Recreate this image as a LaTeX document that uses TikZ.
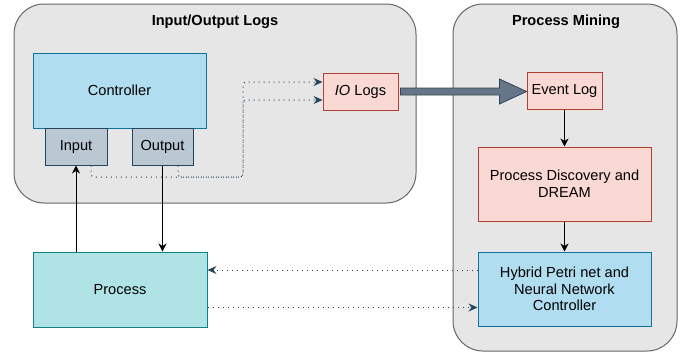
\documentclass[tikz,border=0pt]{standalone}
\usepackage{fontspec}
\setmainfont{Liberation Sans}
\usetikzlibrary{arrows.meta,calc}
\definecolor{contfill}{HTML}{E6E6E6}
\definecolor{contdraw}{HTML}{666666}
\definecolor{bluefill}{HTML}{B1DDF0}
\definecolor{bluedraw}{HTML}{10739E}
\definecolor{grayfill}{HTML}{BAC8D3}
\definecolor{graydraw}{HTML}{23445D}
\definecolor{redfill}{HTML}{FAD9D5}
\definecolor{reddraw}{HTML}{AE4132}
\definecolor{tealfill}{HTML}{B0E3E6}
\definecolor{tealdraw}{HTML}{0E8088}
\definecolor{arrfill}{HTML}{647687}
\definecolor{arrdraw}{HTML}{314354}
\begin{document}
\begin{tikzpicture}[x=1pt,y=-1pt,
  every node/.style={font=\fontsize{14.6}{16.7}\selectfont, align=center, inner sep=0pt},
  container/.style={draw=contdraw, fill=contfill, line width=1pt, rounded corners=30pt},
  boxbase/.style={line width=1pt},
  bluebox/.style={boxbase, draw=bluedraw, fill=bluefill},
  graybox/.style={boxbase, draw=graydraw, fill=graybox!0!grayfill},
  redbox/.style={boxbase, draw=reddraw, fill=redfill},
  tealbox/.style={boxbase, draw=tealdraw, fill=tealfill},
  title/.style={font=\fontsize{14.6}{16.7}\selectfont\bfseries},
  solidarrow/.style={line width=0.9pt, -{Stealth[length=8pt,width=8pt,inset=2.5pt]}},
  dotline/.style={draw=graydraw, line width=1pt, dash pattern=on 1pt off 4pt, rounded corners=3pt},
  dotarrow/.style={dotline, -{Stealth[length=9pt,width=8pt,inset=3pt,fill=graydraw]}},
  bigarrow/.style={fill=arrfill, draw=arrdraw, line width=0.8pt, line join=miter}
]
\useasboundingbox (0,0) rectangle (694,354);
% containers
\node[container, minimum width=402pt, minimum height=199pt] (leftc) at (215,103.5) {};
\node[title] (lefttitle) at (215,22) {Input/Output Logs};
\node[container, minimum width=224pt, minimum height=347pt] (rightc) at (565,177.5) {};
\node[title] (righttitle) at (566,22) {Process Mining};
% boxes
\node[bluebox, minimum width=173pt, minimum height=75pt] (ctrl) at (119.5,90.5) {Controller};
\node[boxbase, draw=graydraw, fill=grayfill, minimum width=62pt, minimum height=37pt] (inp) at (76,146.5) {Input};
\node[boxbase, draw=graydraw, fill=grayfill, minimum width=61pt, minimum height=37pt] (outp) at (162.5,146.5) {Output};
\node[redbox, minimum width=75pt, minimum height=37pt] (iolog) at (360.5,91.5) {\textit{IO} Logs};
\node[redbox, minimum width=75pt, minimum height=37pt] (evlog) at (564.5,90.5) {Event Log};
\node[redbox, minimum width=173pt, minimum height=74pt] (pd) at (564.5,184) {Process Discovery and\\DREAM};
\node[bluebox, minimum width=173pt, minimum height=74pt] (hyb) at (564.5,289) {Hybrid Petri net and\\Neural Network\\Controller};
\node[tealbox, minimum width=174pt, minimum height=75pt] (proc) at (120,289.5) {Process};
% big arrow
\coordinate (ba) at ($(iolog.east)+(2,0)$);
\coordinate (bb) at (evlog.west |- iolog.east);
\draw[bigarrow] ($(ba)+(0,-3.5)$) -- ($(bb)+(-27,-3.5)$) -- ($(bb)+(-27,-12.5)$) -- (bb)
  -- ($(bb)+(-27,12.5)$) -- ($(bb)+(-27,3.5)$) -- ($(ba)+(0,3.5)$) -- cycle;
% solid arrows
\draw[solidarrow] (inp.south |- proc.north) -- (inp.south);
\draw[solidarrow] (outp.south) -- (outp.south |- proc.north);
\draw[solidarrow] (evlog.south) -- (pd.north);
\draw[solidarrow] (pd.south) -- (hyb.north);
% dotted connectors
\coordinate (dv1) at (243,177);
\draw[dotarrow] ($(inp.south)+(15,0)$) |- (dv1) |- ([yshift=9.5pt]iolog.west);
\draw[dotarrow] ($(outp.south)+(15.5,0)$) |- (dv1) |- ([yshift=-8.5pt]iolog.west);
\draw[dotarrow] ([yshift=19pt]hyb.west) -- ([yshift=19pt]hyb.west -| proc.east);
\draw[dotarrow] ([yshift=-18pt]proc.east) -- ([yshift=-18pt]proc.east -| hyb.west);
\end{tikzpicture}
\end{document}
